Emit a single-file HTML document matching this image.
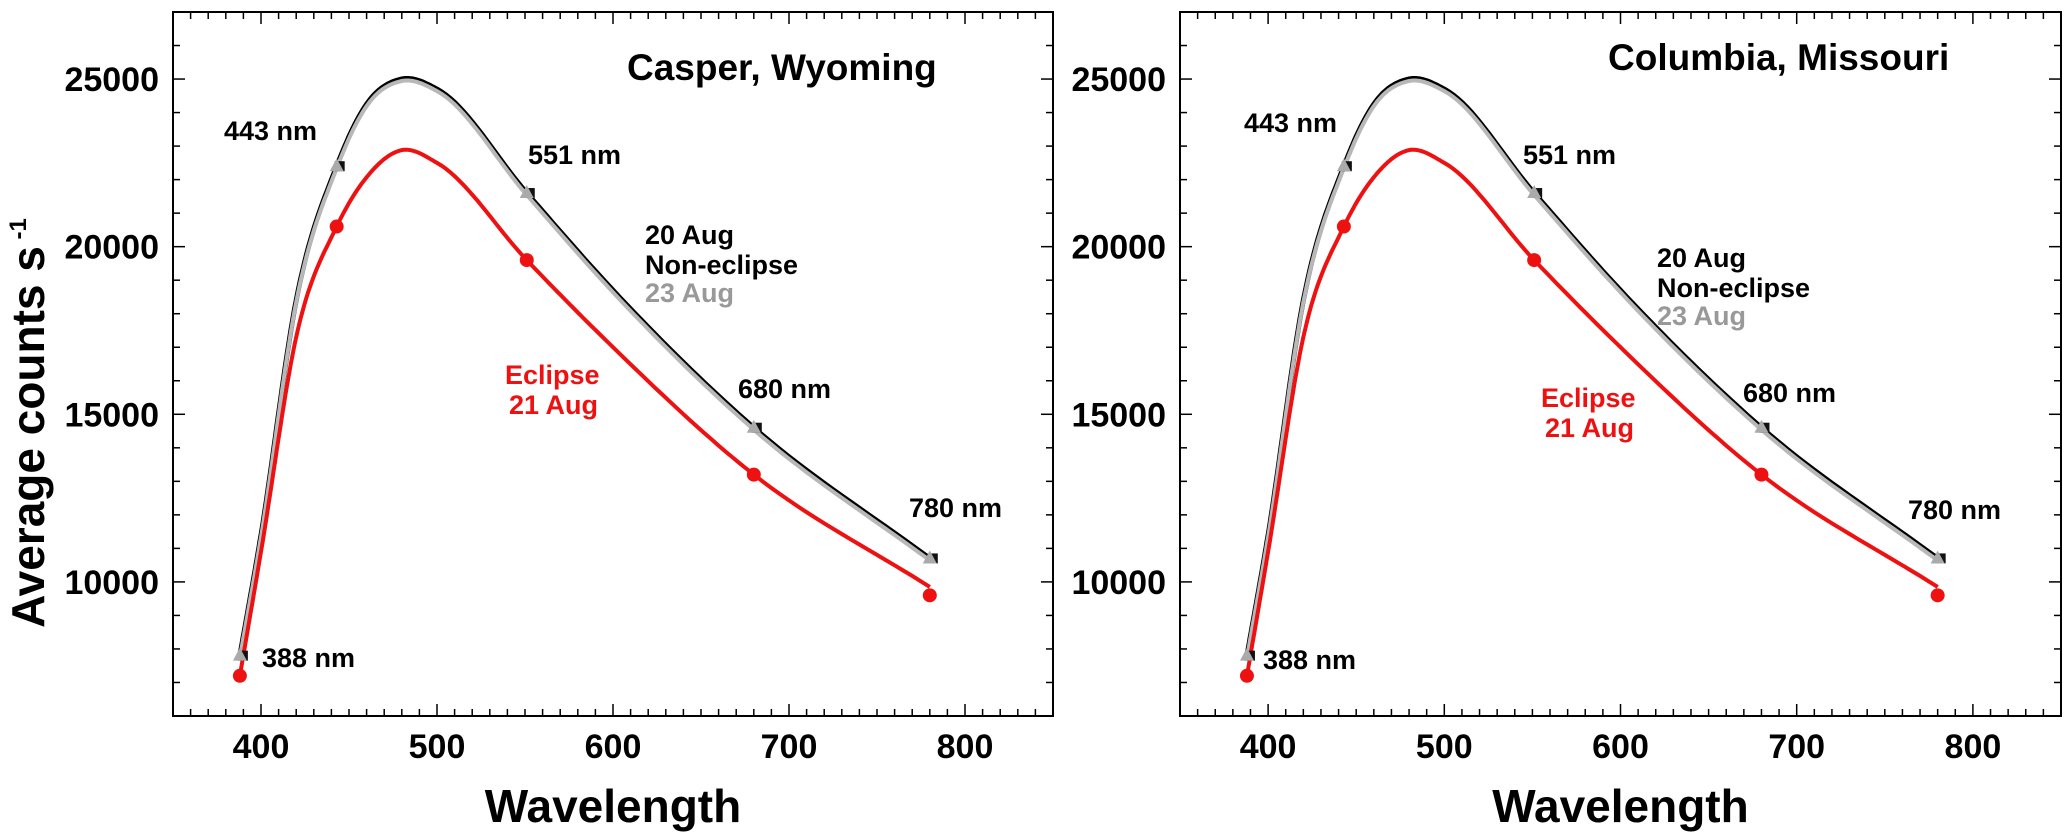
<!DOCTYPE html>
<html><head><meta charset="utf-8"><style>
body{margin:0;background:#fff;}
svg{display:block;font-family:"Liberation Sans",Arial,sans-serif;font-weight:bold;}
</style></head><body>
<svg id="c" width="2067" height="840"></svg>
<script>
const wavelengths=[388,443,551,680,780];
const nonEclipse=[7800,22400,21600,14600,10700];
const eclipse=[7200,20600,19600,13200,9600];
const fitX=[388,400,420,443,460,480,500,551,600,680,780];
const fitNon=[7800,11400,18400,22400,24250,25000,24700,21600,18700,14600,10700];
const fitEcl=[7200,10900,17300,20600,22070,22880,22500,19600,17000,13200,9850];
const xTicks=[400,500,600,700,800];
const yTicks=[10000,15000,20000,25000];
const panels=[
 {name:'casper',x0:173,x1:1053,title:'Casper, Wyoming',tx:627,ty:80,
  labels:[['443 nm',224,140],['551 nm',528,164],['680 nm',738,398],['780 nm',909,517],['388 nm',262,667]],
  leg:[645,244],ecl:[505,384]},
 {name:'columbia',x0:1180,x1:2061,title:'Columbia, Missouri',tx:1608,ty:70,
  labels:[['443 nm',1244,132],['551 nm',1523,164],['680 nm',1743,402],['780 nm',1908,519],['388 nm',1263,669]],
  leg:[1657,267],ecl:[1541,407]}
];
const NS='http://www.w3.org/2000/svg';
const svg=document.getElementById('c');
function mk(t,a,p){const e=document.createElementNS(NS,t);for(const k in a)e.setAttribute(k,a[k]);(p||svg).appendChild(e);return e;}
const Y0=12,Y1=716,ymin=6000,ymax=27000;
function sy(v){return Y1-(v-ymin)/(ymax-ymin)*(Y1-Y0);}
function curve(xs,ys,sx){
 const n=xs.length,m=[];
 for(let i=0;i<n;i++){
  if(i===0)m.push((ys[1]-ys[0])/(xs[1]-xs[0]));
  else if(i===n-1)m.push((ys[n-1]-ys[n-2])/(xs[n-1]-xs[n-2]));
  else{
   const d0=(ys[i]-ys[i-1])/(xs[i]-xs[i-1]),d1=(ys[i+1]-ys[i])/(xs[i+1]-xs[i]);
   const h0=xs[i]-xs[i-1],h1=xs[i+1]-xs[i];
   m.push((d0*h1+d1*h0)/(h0+h1));
  }
 }
 let d='';
 for(let i=0;i<n-1;i++){
  const h=xs[i+1]-xs[i];
  for(let k=0;k<=20;k++){
   const t=k/20,t2=t*t,t3=t2*t;
   const v=(2*t3-3*t2+1)*ys[i]+(t3-2*t2+t)*h*m[i]+(-2*t3+3*t2)*ys[i+1]+(t3-t2)*h*m[i+1];
   const x=xs[i]+t*h;
   d+=(d?'L':'M')+sx(x).toFixed(1)+','+sy(v).toFixed(1);
  }
 }
 return d;
}
panels.forEach((P,pi)=>{
 const sx=v=>P.x0+(v-350)/500*(P.x1-P.x0);
 const g=mk('g',{});
 
 
 const fr=mk('rect',{x:P.x0,y:Y0,width:P.x1-P.x0,height:Y1-Y0,fill:'none',stroke:'#000','stroke-width':2},g);
 
 
 for(let v=360;v<=840;v+=10){
  const maj=v%100===0, L=maj?12:7, x=sx(v);
  mk('line',{x1:x,y1:Y1,x2:x,y2:Y1-L,stroke:'#000','stroke-width':1.5},g);
  mk('line',{x1:x,y1:Y0,x2:x,y2:Y0+L,stroke:'#000','stroke-width':1.5},g);
 }
 for(let v=7000;v<=27000;v+=1000){
  const maj=v%5000===0, L=maj?12:7, y=sy(v);
  mk('line',{x1:P.x0,y1:y,x2:P.x0+L,y2:y,stroke:'#000','stroke-width':1.5},g);
  mk('line',{x1:P.x1,y1:y,x2:P.x1-L,y2:y,stroke:'#000','stroke-width':1.5},g);
 }
 xTicks.forEach(v=>{const t=mk('text',{x:sx(v),y:758,'font-size':34,'text-anchor':'middle'},g);t.textContent=v;
  });
 yTicks.forEach(v=>{const t=mk('text',{x:P.x0-14,y:sy(v)+12,'font-size':34,'text-anchor':'end'},g);t.textContent=v;
  });
 const xt=mk('text',{x:(P.x0+P.x1)/2,y:822,'font-size':46,'text-anchor':'middle'},g);xt.textContent='Wavelength';
 
 const l1=mk('path',{d:curve(fitX,fitNon,sx),fill:'none',stroke:'#000','stroke-width':5},g);
 
 const l2=mk('path',{d:curve(fitX,fitNon,sx),fill:'none',stroke:'#b8b8b8','stroke-width':4,transform:'translate(0,2)'},g);
 
 const l3=mk('path',{d:curve(fitX,fitEcl,sx),fill:'none',stroke:'#ee1111','stroke-width':4},g);
 
 wavelengths.forEach((w,i)=>{
  const x=sx(w),y=sy(nonEclipse[i]);
  const s=mk('rect',{x:x-2,y:y-5,width:10,height:10,fill:'#111'},g);
  
  const tr=mk('polygon',{points:`${x},${y-8} ${x+7},${y+5} ${x-7},${y+5}`,fill:'#aaa'},g);
  
  const c=mk('circle',{cx:x,cy:sy(eclipse[i]),r:7,fill:'#ee1111'},g);
  
 });
 P.labels.forEach(L=>{const t=mk('text',{x:L[1],y:L[2],'font-size':27},g);t.textContent=L[0];
  });
 const tt=mk('text',{x:P.tx,y:P.ty,'font-size':37},g);tt.textContent=P.title;
 
 [['20 Aug','#000',0],['Non-eclipse','#000',30],['23 Aug','#999',58]].forEach(a=>{
  const t=mk('text',{x:P.leg[0],y:P.leg[1]+a[2],'font-size':27,fill:a[1]},g);t.textContent=a[0];
  });
 [['Eclipse',0],['21 Aug',30]].forEach(a=>{
  const t=mk('text',{x:P.ecl[0]+(a[1]?4:0),y:P.ecl[1]+a[1],'font-size':27,fill:'#ee1111'},g);t.textContent=a[0];
  });
});
const yt=mk('text',{x:0,y:0,'font-size':46,'text-anchor':'middle',transform:'translate(44,423) rotate(-90)'});
yt.innerHTML='Average  counts s<tspan dy="-18" font-size="24"> -1</tspan>';


</script>
</body></html>
